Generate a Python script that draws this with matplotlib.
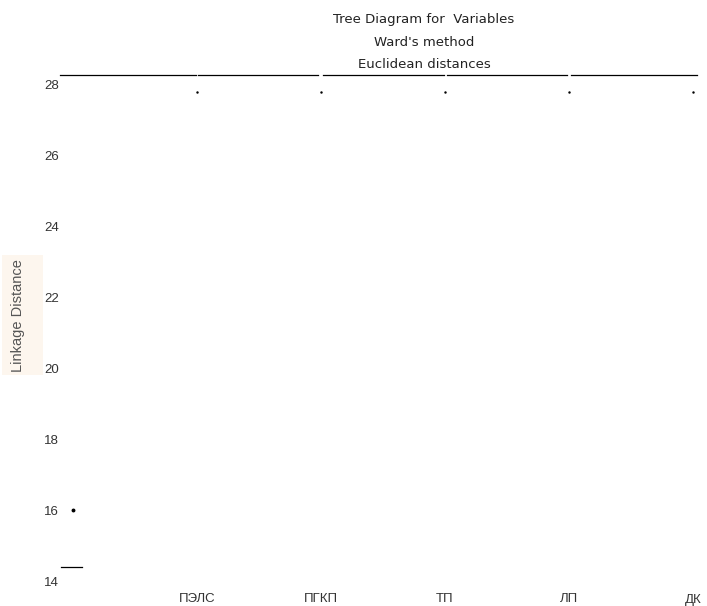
import matplotlib
matplotlib.use('Agg')
import matplotlib.pyplot as plt
from matplotlib.patches import Rectangle

# variables on the x axis
variables = ['ПЭЛС', 'ПГКП', 'ТП', 'ЛП', 'ДК']
var_pos = [1, 2, 3, 4, 5]
dot_level = [27.8, 27.8, 27.8, 27.8, 27.8]

# horizontal links at the top of the tree
link_level = 28.28
link_start = [-0.105, 1.01, 2.02, 3.02, 4.02]
link_end = [0.99, 1.98, 2.99, 3.98, 5.03]

# stray marks at the left
first_point = (0, 16)
base_link = (-0.1, 0.07, 14.4)

y_ticks = [14, 16, 18, 20, 22, 24, 26, 28]

plt.rcParams['font.family'] = ['Liberation Sans', 'DejaVu Sans']

fig = plt.figure(figsize=(7.07, 6.06), dpi=100)
ax = fig.add_axes([61.8 / 707, 25 / 606, 643.6 / 707, 517.3 / 606])
ax.set_xlim(-0.09, 5.1)
ax.set_ylim(14, 28.6)

for s, e in zip(link_start, link_end):
    ax.plot([s, e], [link_level, link_level], color='black', lw=0.9, clip_on=False)

ax.plot(var_pos, dot_level, ls='none', marker='.', ms=1.5, color='black')
ax.plot([first_point[0]], [first_point[1]], ls='none', marker='o', ms=1.8, color='black')
ax.plot([base_link[0], base_link[1]], [base_link[2], base_link[2]], color='black', lw=0.9, clip_on=False)

for sp in ax.spines.values():
    sp.set_visible(False)

ax.set_yticks(y_ticks)
ax.set_yticklabels([str(t) for t in y_ticks])
ax.set_xticks(var_pos)
ax.set_xticklabels(variables)
ax.tick_params(axis='y', length=0, pad=2, labelsize=9.5, labelcolor='#333333')
ax.tick_params(axis='x', length=0, pad=9, labelsize=9.5, labelcolor='#333333')

# titles
fig.text(424 / 707, 1 - 20 / 606, 'Tree Diagram for  Variables', ha='center', va='center',
         fontsize=9.5, color='#222222', family='DejaVu Sans')
fig.text(424 / 707, 1 - 42 / 606, "Ward's method", ha='center', va='center',
         fontsize=9.5, color='#222222', family='DejaVu Sans')
fig.text(424 / 707, 1 - 64 / 606, 'Euclidean distances', ha='center', va='center',
         fontsize=9.5, color='#222222', family='DejaVu Sans')

# y axis title on its pale panel
fig.patches.append(Rectangle((2 / 707, 1 - 375 / 606), 41 / 707, 120 / 606,
                             transform=fig.transFigure, facecolor='#fdf6ee',
                             edgecolor='none', zorder=0))
fig.text(18 / 707, 1 - 316 / 606, 'Linkage Distance', rotation=90, ha='center', va='center',
         fontsize=10.5, color='#555555')

fig.savefig('out.png', dpi=100)
